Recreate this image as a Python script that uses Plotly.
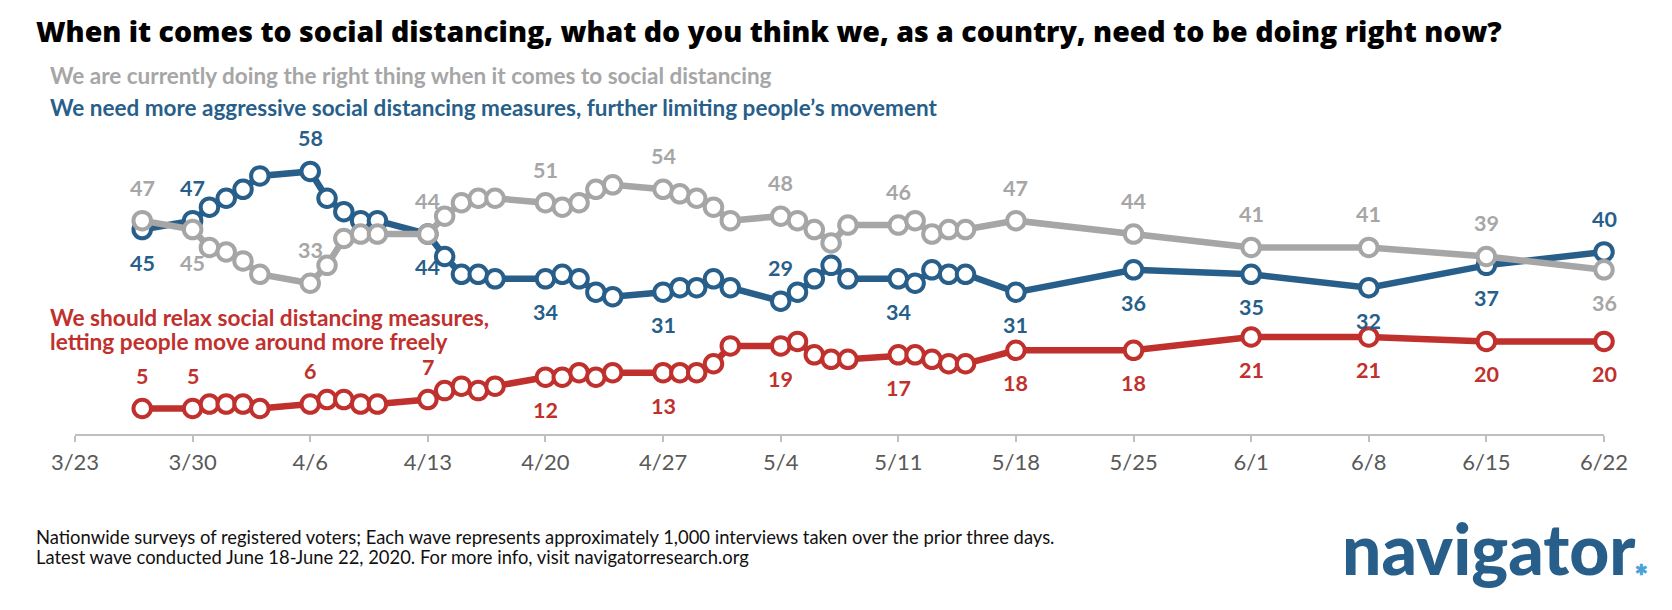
import plotly.graph_objects as go

# ---------------- data ----------------
dates = [
    "2020-03-27",
    "2020-03-30", "2020-03-31", "2020-04-01", "2020-04-02", "2020-04-03",
    "2020-04-06", "2020-04-07", "2020-04-08", "2020-04-09", "2020-04-10",
    "2020-04-13", "2020-04-14", "2020-04-15", "2020-04-16", "2020-04-17",
    "2020-04-20", "2020-04-21", "2020-04-22", "2020-04-23", "2020-04-24",
    "2020-04-27", "2020-04-28", "2020-04-29", "2020-04-30", "2020-05-01",
    "2020-05-04", "2020-05-05", "2020-05-06", "2020-05-07", "2020-05-08",
    "2020-05-11", "2020-05-12", "2020-05-13", "2020-05-14", "2020-05-15",
    "2020-05-18", "2020-05-25", "2020-06-01", "2020-06-08", "2020-06-15", "2020-06-22",
]

right_thing = [
    47,
    45, 41, 40, 38, 35,
    33, 37, 43, 44, 44,
    44, 48, 51, 52, 52,
    51, 50, 51, 54, 55,
    54, 53, 52, 50, 47,
    48, 47, 45, 42, 46,
    46, 47, 44, 45, 45,
    47, 44, 41, 41, 39, 36,
]

more_aggressive = [
    45,
    47, 50, 52, 54, 57,
    58, 52, 49, 47, 47,
    44, 39, 35, 35, 34,
    34, 35, 34, 31, 30,
    31, 32, 32, 34, 32,
    29, 31, 34, 37, 34,
    34, 33, 36, 35, 35,
    31, 36, 35, 32, 37, 40,
]

relax = [
    5,
    5, 6, 6, 6, 5,
    6, 7, 7, 6, 6,
    7, 9, 10, 9, 10,
    12, 12, 13, 12, 13,
    13, 13, 13, 15, 19,
    19, 20, 17, 16, 16,
    17, 17, 16, 15, 15,
    18, 18, 21, 21, 20, 20,
]

# labelled waves and where each label sits ("a" above, "b" below)
label_dates = ["2020-03-27", "2020-03-30", "2020-04-06", "2020-04-13", "2020-04-20",
               "2020-04-27", "2020-05-04", "2020-05-11", "2020-05-18", "2020-05-25",
               "2020-06-01", "2020-06-08", "2020-06-15", "2020-06-22"]
right_pos = ["a", "b", "a", "a", "a", "a", "a", "a", "a", "a", "a", "a", "a", "b"]
aggr_pos = ["b", "a", "a", "b", "b", "b", "a", "b", "b", "b", "b", "b", "b", "a"]
relax_pos = ["a", "a", "a", "a", "b", "b", "b", "b", "b", "b", "b", "b", "b", "b"]

tick_dates = ["2020-03-23", "2020-03-30", "2020-04-06", "2020-04-13", "2020-04-20",
              "2020-04-27", "2020-05-04", "2020-05-11", "2020-05-18", "2020-05-25",
              "2020-06-01", "2020-06-08", "2020-06-15", "2020-06-22"]
tick_labels = ["3/23", "3/30", "4/6", "4/13", "4/20", "4/27", "5/4", "5/11",
               "5/18", "5/25", "6/1", "6/8", "6/15", "6/22"]

title_text = "When it comes to social distancing, what do you think we, as a country, need to be doing right now?"
right_name = "We are currently doing the right thing when it comes to social distancing"
aggr_name = "We need more aggressive social distancing measures, further limiting people\u2019s movement"
relax_name_1 = "We should relax social distancing measures,"
relax_name_2 = "letting people move around more freely"
foot_1 = "Nationwide surveys of registered voters; Each wave represents approximately 1,000 interviews taken over the prior three days."
foot_2 = "Latest wave conducted June 18-June 22, 2020. For more info, visit navigatorresearch.org"
logo_text = "navigator"

# ---------------- style ----------------
W, H = 1672, 610
ML, MR, MT, MB = 67, 76, 150, 184
PW, PH = W - ML - MR, H - MT - MB

GRAY = "#A6A6A6"
BLUE = "#285F8A"
RED = "#C0312E"
LIGHTBLUE = "#4BA3D9"
FONT = "Lato"


def px(xp):
    return (xp - ML) / PW


def py(yp):
    return (H - MB - yp) / PH


fig = go.Figure()

for vals, col in [(relax, RED), (more_aggressive, BLUE), (right_thing, GRAY)]:
    fig.add_trace(go.Scatter(
        x=dates, y=vals, mode="lines+markers",
        line=dict(color=col, width=6.5),
        marker=dict(symbol="circle", size=17.5, color="white",
                    line=dict(color=col, width=4)),
        cliponaxis=False, hoverinfo="skip", showlegend=False,
    ))

annotations = []
lookup = {d: i for i, d in enumerate(dates)}
for vals, poss, col in [(right_thing, right_pos, GRAY),
                        (more_aggressive, aggr_pos, BLUE),
                        (relax, relax_pos, RED)]:
    for d, p in zip(label_dates, poss):
        v = vals[lookup[d]]
        annotations.append(dict(
            x=d, y=v, xref="x", yref="y", text=str(v), showarrow=False,
            yshift=33 if p == "a" else -33,
            font=dict(family=FONT, size=21.5, color=col, weight="bold"),
            xanchor="center", yanchor="middle",
        ))


def txt(text, x, y, size, color, weight="normal", family=FONT, xanchor="left"):
    annotations.append(dict(
        x=px(x), y=py(y), xref="paper", yref="paper", text=text,
        showarrow=False, xanchor=xanchor, yanchor="middle",
        font=dict(family=family, size=size, color=color, weight=weight),
    ))


txt(title_text, 26, 22.5, 28.5, "#000000", 800, "Open Sans")
txt(right_name, 40, 67.5, 22.5, GRAY, "bold")
txt(aggr_name, 40, 99.5, 22.5, BLUE, "bold")
txt(relax_name_1, 40, 309.5, 22.7, RED, "bold")
txt(relax_name_2, 40, 333.5, 22.7, RED, "bold")
txt(foot_1, 26, 529, 18.4, "#111111")
txt(foot_2, 26, 548.5, 18.4, "#111111")
txt(logo_text + "<span style='font-size:15px;color:" + LIGHTBLUE + "'>\u2731</span>",
    1332, 540, 69.5, BLUE, 900)

fig.update_layout(
    width=W, height=H,
    margin=dict(l=ML, r=MR, t=MT, b=MB, pad=0),
    paper_bgcolor="white", plot_bgcolor="white",
    annotations=annotations,
    xaxis=dict(
        type="date", range=["2020-03-23", "2020-06-22"],
        tickvals=tick_dates, ticktext=tick_labels,
        showgrid=False, zeroline=False,
        showline=True, linecolor="#BFBFBF", linewidth=2,
        ticks="outside", ticklen=6, tickwidth=2, tickcolor="#BFBFBF",
        tickfont=dict(family=FONT, size=22, color="#595959"),
        ticklabelstandoff=2,
    ),
    yaxis=dict(range=[-0.7, 61.0], visible=False, showgrid=False, zeroline=False),
)

fig.write_html("out.html")
